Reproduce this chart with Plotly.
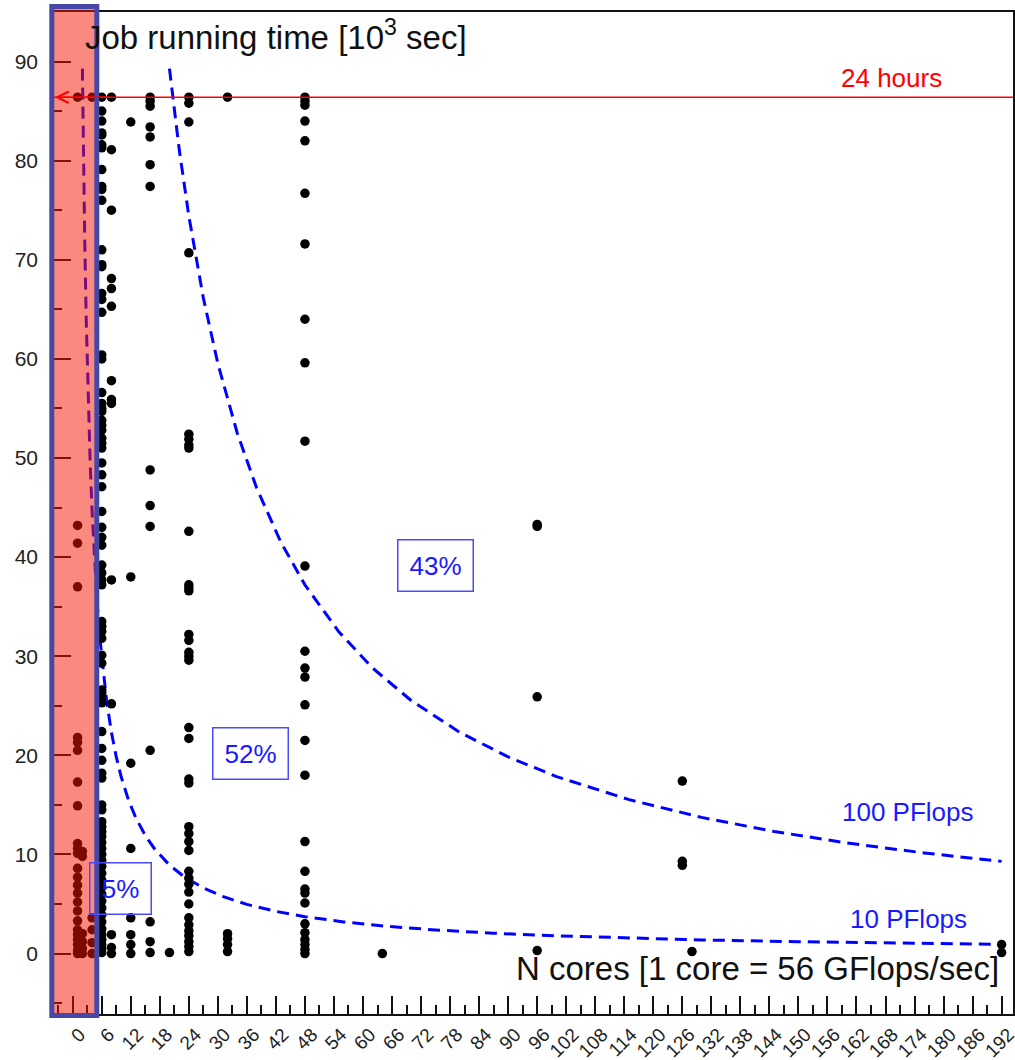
import plotly.graph_objects as go

# ---------------- data (running time in 10^3 sec, grouped by number of cores) ----------------
t_1 = [86.4, 43.2, 41.4, 37.0, 21.8, 21.3, 20.5, 17.3, 14.9, 11.1, 10.6, 10.1, 8.6, 7.7, 6.9,
       6.1, 5.2, 4.3, 3.3, 2.4, 1.9, 1.4, 0.9, 0.35, 0.0]
t_2 = [10.3, 9.8, 2.0, 1.2, 0.5, 0.0]
t_4 = [86.4, 3.6, 2.4, 1.1, 0.0]
t_6 = [86.4, 85.0, 84.0, 82.8, 82.6, 81.6, 81.3, 79.1, 77.4, 77.1, 76.0, 71.0, 69.5, 69.3,
       66.6, 66.0, 64.7, 60.4, 60.0, 56.6, 55.5, 55.0, 54.7, 53.8, 53.3, 52.8, 52.0, 51.5,
       51.0, 49.5, 48.3, 47.1, 44.6, 43.0, 42.0, 41.2, 39.2, 38.4, 37.7, 37.2, 33.5, 33.0,
       32.5, 31.8, 30.1, 29.3, 26.6, 26.3, 25.8, 25.3, 22.4, 20.7, 19.5, 18.2, 17.7, 15.0,
       14.5, 13.3, 12.8, 12.3, 11.8, 11.2, 10.6, 10.0, 9.4, 8.8, 8.1, 7.4, 6.7, 6.0, 5.3,
       4.6, 3.9, 3.2, 2.5, 1.9, 1.4, 0.9, 0.5, 0.1]
t_8 = [86.4, 81.1, 75.0, 68.1, 67.1, 65.3, 57.8, 55.9, 55.5, 37.7, 25.2, 1.9, 0.6, 0.0]
t_12 = [83.9, 38.0, 19.2, 10.6, 3.6, 1.9, 0.9, 0.0]
t_16 = [86.4, 86.0, 85.5, 83.4, 82.4, 79.6, 77.4, 48.8, 45.2, 43.1, 20.5, 3.2, 1.2, 0.1]
t_20 = [0.1]
t_24 = [86.4, 85.8, 83.9, 70.7, 52.4, 51.9, 51.3, 51.0, 42.6, 37.2, 36.9, 36.6, 32.2, 31.6,
        30.4, 30.0, 29.6, 22.8, 21.7, 17.6, 17.2, 12.8, 12.1, 11.3, 10.4, 8.3, 7.6, 7.0, 6.2,
        5.0, 3.6, 2.9, 2.3, 1.8, 1.2, 0.7, 0.2]
t_32 = [86.4, 2.0, 1.5, 0.9, 0.2]
t_48 = [86.4, 86.0, 85.6, 84.0, 82.0, 76.7, 71.6, 64.0, 59.6, 51.7, 39.1, 30.5, 28.8, 27.9,
        25.1, 21.5, 18.0, 11.3, 8.3, 6.5, 6.1, 5.1, 3.0, 2.1, 1.4, 0.9, 0.4, 0.0]
t_64 = [0.0]
t_96 = [43.3, 43.1, 25.9, 0.3]
t_126 = [17.4, 9.3, 8.9]
t_128 = [0.2]
t_192 = [0.9, 0.1]

core_groups = [1, 2, 4, 6, 8, 12, 16, 20, 24, 32, 48, 64, 96, 126, 128, 192]
time_groups = [t_1, t_2, t_4, t_6, t_8, t_12, t_16, t_20, t_24, t_32, t_48, t_64, t_96,
               t_126, t_128, t_192]

x_ticks = list(range(0, 193, 6))
y_ticks = list(range(0, 91, 10))

limit_24h = 86.4              # 24 hours in 10^3 sec
core_gflops = 56.0            # 1 core = 56 GFlops/sec
work_100 = 100e15             # "100 PFlops" iso-work curve
work_10 = 10e15               # "10 PFlops" iso-work curve
curve_cores_100 = [20, 22, 24, 27, 30, 34, 38, 43, 48, 55, 62, 70, 80, 90, 100, 115, 130, 145, 160, 176, 192]
curve_cores_10 = [2, 2.2, 2.5, 2.8, 3.2, 3.6, 4, 4.5, 5, 5.6, 6.3, 7, 8, 9, 10, 11.5, 13, 15, 17,
                  20, 23, 27, 31, 36, 42, 48, 56, 65, 75, 87, 100, 115, 130, 150, 170, 192]

xs, ys = [], []
for c, ts in zip(core_groups, time_groups):
    xs += [c] * len(ts)
    ys += ts


def iso(work, cores):
    return [work / (c * core_gflops * 1e9) / 1e3 for c in cores]


# ---------------- geometry ----------------
W, H = 1015, 1060
ML, MR, MT, MB = 54, 2, 12, 46
PW, PH = W - ML - MR, H - MT - MB


def px(xp):
    return (xp - ML) / PW


def py(yp):
    return (H - MB - yp) / PH


fig = go.Figure()

fig.add_trace(go.Scatter(x=curve_cores_10, y=iso(work_10, curve_cores_10), mode="lines",
                         line=dict(color="#0000ff", width=3, dash="12px,7px"),
                         hoverinfo="skip", showlegend=False))
fig.add_trace(go.Scatter(x=curve_cores_100, y=iso(work_100, curve_cores_100), mode="lines",
                         line=dict(color="#0000ff", width=3, dash="12px,7px"),
                         hoverinfo="skip", showlegend=False))
fig.add_trace(go.Scatter(x=xs, y=ys, mode="markers",
                         marker=dict(color="black", size=9.5, line=dict(width=0)),
                         showlegend=False))

# 24 hours line
fig.add_shape(type="line", xref="paper", yref="y", x0=0, x1=1, y0=limit_24h, y1=limit_24h,
              line=dict(color="#ff0000", width=1.6), layer="above")
fig.add_annotation(x=-3.7, y=limit_24h, xref="x", yref="y", ax=8, ay=limit_24h,
                   axref="x", ayref="y", text=" ", showarrow=True, arrowhead=5,
                   arrowsize=1.6, arrowwidth=1.4, arrowcolor="#ff0000",
                   font=dict(size=2))

# highlighted region
fig.add_shape(type="rect", xref="paper", yref="paper",
              x0=px(51.8), x1=px(96.8), y0=py(1015.5), y1=py(6.5),
              fillcolor="rgba(245,22,0,0.5)", line=dict(width=0), layer="above")
fig.add_shape(type="rect", xref="paper", yref="paper",
              x0=px(51.8), x1=px(96.8), y0=py(1015.5), y1=py(6.5),
              fillcolor="rgba(0,0,0,0)", line=dict(color="#4747a8", width=5), layer="above")

FONT = "Liberation Sans, Arial, sans-serif"


def label(text, cx, cy, size, color, **kw):
    fig.add_annotation(xref="paper", yref="paper", x=px(cx), y=py(cy), text=text,
                       showarrow=False, xanchor=kw.pop("xanchor", "center"),
                       yanchor=kw.pop("yanchor", "middle"),
                       font=dict(family=FONT, size=size, color=color), **kw)


label("Job running time [10<sup>3</sup> sec]", 83, 12, 33, "#111", xanchor="left", yanchor="top")
label("N cores [1 core = 56 GFlops/sec]", 1001, 968, 33, "#111", xanchor="right")
label("24 hours", 891, 78, 26, "#ff0000")
label("100 PFlops", 908, 812, 26, "#1a1aff")
label("10 PFlops", 908, 919, 26, "#1a1aff")

for txt, cx, cy, w in [("43%", 435.5, 565.3, 74), ("52%", 250.3, 753.6, 74), ("5%", 120.5, 888.6, 60)]:
    label(txt, cx, cy, 26, "#1a1aff", width=w, height=50, borderpad=0,
          bordercolor="#4a4aff", borderwidth=1.5, bgcolor="rgba(255,255,255,0)")

fig.update_layout(
    width=W, height=H,
    margin=dict(l=ML, r=MR, t=MT, b=MB, autoexpand=False),
    paper_bgcolor="white", plot_bgcolor="white",
    font=dict(family=FONT, color="#222"),
    xaxis=dict(range=[-3.87, 194.35], tickmode="array", tickvals=x_ticks,
               ticktext=[str(v) for v in x_ticks], tickangle=-45, automargin=False,
               ticks="inside", ticklen=18, tickwidth=1.5, tickcolor="#111",
               minor=dict(ticks="inside", ticklen=9, tickwidth=1.5, tickcolor="#111", dtick=3, showgrid=False),
               showline=True, linecolor="#111", linewidth=2, mirror=True,
               showgrid=False, zeroline=False, tickfont=dict(size=19, color="#222"),
               ticklabelstandoff=0, ticklabelshift=7, ticklabeloverflow="allow"),
    yaxis=dict(range=[-6.1, 95.0], tickmode="array", tickvals=y_ticks,
               ticktext=[str(v) for v in y_ticks], automargin=False,
               ticks="inside", ticklen=17, tickwidth=1.5, tickcolor="#111",
               minor=dict(ticks="inside", ticklen=8, tickwidth=1.5, tickcolor="#111", dtick=5, showgrid=False),
               showline=True, linecolor="#111", linewidth=1.5, mirror=True,
               showgrid=False, zeroline=False, tickfont=dict(size=21, color="#222"),
               ticklabelstandoff=10),
)

fig.write_html("out.html", config={"displayModeBar": False})
with open("out.html", "r", encoding="utf-8") as f:
    html = f.read()
html = html.replace("<head>", "<head><style>html,body{margin:0;padding:0;}</style>", 1)
with open("out.html", "w", encoding="utf-8") as f:
    f.write(html)
